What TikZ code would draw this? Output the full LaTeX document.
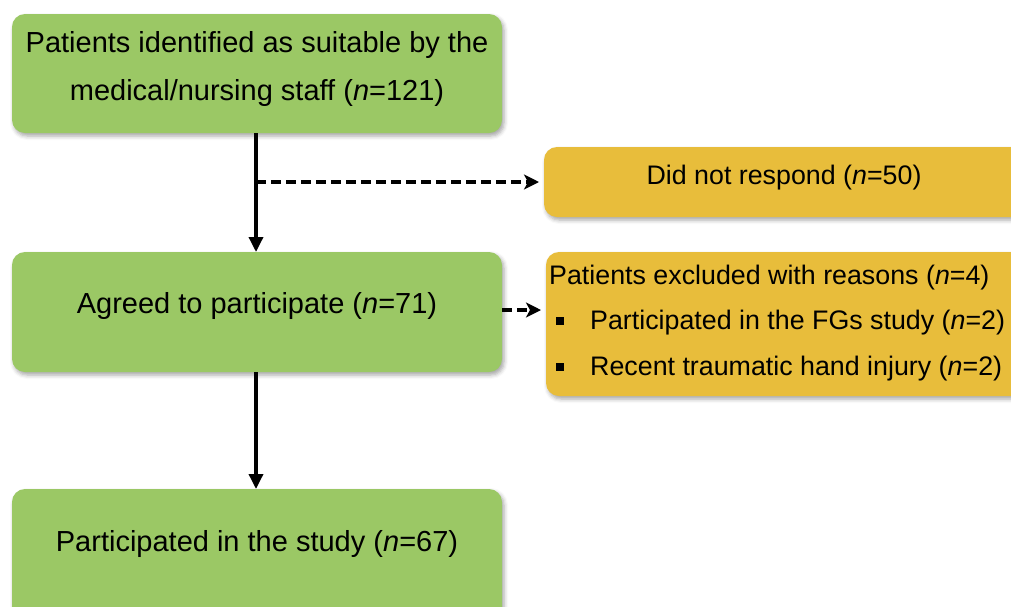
\documentclass[tikz,border=0pt]{standalone}
\usepackage{fontspec}
\setmainfont{Liberation Sans}
\usetikzlibrary{arrows.meta,shadows.blur}

\definecolor{boxgreen}{HTML}{9BC865}
\definecolor{boxgold}{HTML}{E8BD3B}

\tikzset{
  flowbox/.style={draw=none, rounded corners=13pt, anchor=north west,
    inner sep=0pt, outer sep=0pt,
    blur shadow={shadow xshift=2pt, shadow yshift=-3pt, shadow blur radius=4pt,
      shadow opacity=35}},
  greenbox/.style={flowbox, fill=boxgreen, minimum width=490pt},
  goldbox/.style={flowbox, fill=boxgold},
  txt/.style={anchor=base, inner sep=0pt, font=\fontsize{29}{34}\selectfont},
  gtxt/.style={txt, font=\fontsize{26.8}{32}\selectfont},
  ltxt/.style={gtxt, anchor=base west},
  solidarrow/.style={line width=3.4pt, -{Triangle[length=15pt,width=14pt]}},
  dasharrow/.style={line width=3.4pt, dash pattern=on 10pt off 5pt,
    -{Stealth[length=15pt,width=15pt,inset=4pt]}},
}

\begin{document}
\begin{tikzpicture}[x=1pt,y=-1pt]
  \useasboundingbox (0,0) rectangle (1011,606);
  \clip (0,0) rectangle (1011,606);

  % boxes
  \node[greenbox, minimum height=119pt] (ident) at (12,14) {};
  \node[goldbox, minimum width=490pt, minimum height=70pt] (noresp) at (544,147) {};
  \node[greenbox, minimum height=120pt] (agreed) at (12,252) {};
  \node[goldbox, minimum width=480pt, minimum height=144pt] (excl) at (546,252) {};
  \node[greenbox, minimum height=140pt] (part) at (12,489) {};

  % box texts
  \node[txt] (identA) at (257,52) {Patients identified as suitable by the};
  \node[txt] (identB) at (257,100) {medical/nursing staff (\textit{n}=121)};
  \node[gtxt] (norespT) at (784,184) {Did not respond (\textit{n}=50)};
  \node[txt] (agreedT) at (257,313) {Agreed to participate (\textit{n}=71)};
  \node[ltxt] (exclA) at (549,284) {Patients excluded with reasons (\textit{n}=4)};
  \node[ltxt] (exclB) at (590,329) {Participated in the FGs study (\textit{n}=2)};
  \node[ltxt] (exclC) at (590,375) {Recent traumatic hand injury (\textit{n}=2)};
  \node[txt] (partT) at (257,551) {Participated in the study (\textit{n}=67)};

  % bullet squares
  \fill (556,317) rectangle (564,325);
  \fill (556,363) rectangle (564,371);

  % connectors
  \coordinate (branch) at (256,182);
  \draw[solidarrow] (ident.south -| branch) -- (agreed.north -| branch);
  \draw[dasharrow] (branch) -- ([xshift=-5pt]noresp.west |- branch);
  \draw[dasharrow] (agreed.east |- 0,310) -- ([xshift=-5pt]excl.west |- 0,310);
  \draw[solidarrow] (agreed.south -| branch) -- (part.north -| branch);
\end{tikzpicture}
\end{document}
